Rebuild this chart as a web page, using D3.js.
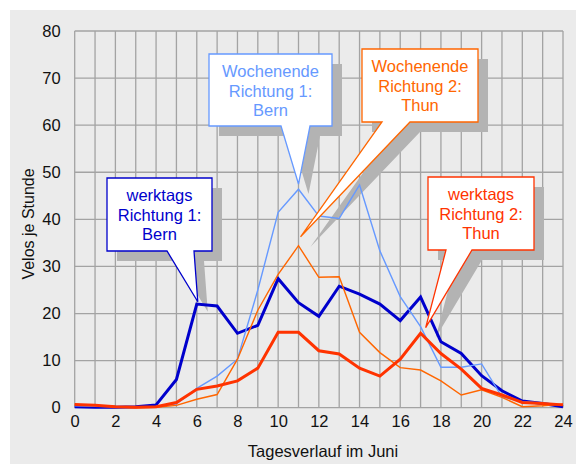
<!DOCTYPE html>
<html>
<head>
<meta charset="utf-8">
<script src="https://cdn.jsdelivr.net/npm/d3@7"></script>
<style>
  body { margin: 0; background: #fff; }
  svg { display: block; font-family: "Liberation Sans", Arial, sans-serif; }
</style>
</head>
<body>
<svg id="chart" width="576" height="464"></svg>
<script>
// Stunden 0..24
const hours = d3.range(0, 25);
const xTicks = d3.range(0, 25, 2);
const yTicks = d3.range(0, 81, 10);

// werktags
const werktagsBern = [0.2, 0.1, 0.1, 0.2, 0.6, 6.0, 22.0, 21.6, 15.8, 17.5, 27.4, 22.3, 19.4, 25.8, 24.1, 22.0, 18.5, 23.5, 14.0, 11.5, 6.8, 3.6, 1.4, 0.9, 0.2];
const werktagsThun = [0.7, 0.5, 0.2, 0.1, 0.2, 1.1, 3.9, 4.6, 5.7, 8.4, 16.0, 16.0, 12.1, 11.4, 8.4, 6.7, 10.3, 15.8, 11.5, 8.2, 4.1, 2.7, 1.1, 0.9, 0.6];
// Wochenende
const wochenendeBern = [0.4, 0.3, 0.2, 0.1, 0.1, 0.8, 4.1, 6.7, 10.3, 25.0, 41.5, 46.4, 40.7, 40.2, 47.3, 33.3, 23.6, 17.2, 8.6, 8.6, 9.3, 2.3, 1.3, 1.0, 0.6];
const wochenendeThun = [0.7, 0.5, 0.2, 0.0, 0.1, 0.5, 1.8, 2.8, 10.3, 20.7, 28.3, 34.4, 27.7, 27.8, 16.0, 11.7, 8.5, 8.0, 5.7, 2.7, 3.8, 2.2, 0.2, 0.4, 0.8];

const series = [
  { name: "werktags Richtung 1: Bern", values: werktagsBern, color: "#0000cc", width: 3 },
  { name: "Wochenende Richtung 1: Bern", values: wochenendeBern, color: "#6699ff", width: 1.4 },
  { name: "Wochenende Richtung 2: Thun", values: wochenendeThun, color: "#ff6600", width: 1.4 },
  { name: "werktags Richtung 2: Thun", values: werktagsThun, color: "#ff3300", width: 3 }
];

// Sprechblasen: Text, Box, Fuss der Spitze, Spitze in Datenkoordinaten
const callouts = [
  { lines: ["werktags", "Richtung 1:", "Bern"], color: "#0000cc",
    box: [107, 178, 105, 73], tail: [167, 194], tip: [6.05, 22.5] },
  { lines: ["Wochenende", "Richtung 1:", "Bern"], color: "#6699ff",
    box: [209, 54, 123, 72], tail: [281, 310], tip: [11, 47.5] },
  { lines: ["Wochenende", "Richtung 2:", "Thun"], color: "#ff6600",
    box: [362, 49, 116, 73], tail: [382, 410], tip: [11.1, 36.3] },
  { lines: ["werktags", "Richtung 2:", "Thun"], color: "#ff3300",
    box: [428, 177, 106, 73], tail: [446, 472], tip: [17.25, 17] }
];

const svg = d3.select("#chart");

// Hintergrund
svg.append("rect")
  .attr("x", 10).attr("y", 10)
  .attr("width", 566).attr("height", 454)
  .attr("fill", "#ebebeb");

const x = d3.scaleLinear().domain([0, 24]).range([74.7, 563]);
const y = d3.scaleLinear().domain([0, 80]).range([407.7, 31]);

// Gitter
const grid = svg.append("g").attr("stroke", "#a3a3a3").attr("stroke-width", 1.3);
grid.selectAll("line.v").data(hours).enter().append("line")
  .attr("x1", d => x(d)).attr("x2", d => x(d))
  .attr("y1", y(0)).attr("y2", y(80));
grid.selectAll("line.h").data(yTicks).enter().append("line")
  .attr("x1", x(0)).attr("x2", x(24))
  .attr("y1", d => y(d)).attr("y2", d => y(d));

// Achsen
const xAxis = svg.append("g")
  .attr("transform", `translate(0,${y(0)})`)
  .call(d3.axisBottom(x).tickValues(xTicks).tickSize(0).tickPadding(8));
const yAxis = svg.append("g")
  .attr("transform", `translate(${x(0)},0)`)
  .call(d3.axisLeft(y).tickValues(yTicks).tickSize(0).tickPadding(14));
[xAxis, yAxis].forEach(a => {
  a.select(".domain").remove();
  a.selectAll("text").attr("font-size", 16.5).attr("fill", "#111")
    .attr("font-family", "'Liberation Sans', Arial, sans-serif");
});

svg.append("text")
  .attr("x", 323).attr("y", 457)
  .attr("text-anchor", "middle")
  .attr("font-size", 16.5).attr("fill", "#111")
  .text("Tagesverlauf im Juni");

svg.append("text")
  .attr("transform", "translate(34,224) rotate(-90)")
  .attr("text-anchor", "middle")
  .attr("font-size", 16).attr("fill", "#111")
  .text("Velos je Stunde");

function calloutPath(c, dx, dy) {
  const [bx, by, bw, bh] = c.box;
  const tx = x(c.tip[0]), ty = y(c.tip[1]);
  const p = d3.path();
  p.moveTo(bx + dx, by + dy);
  p.lineTo(bx + bw + dx, by + dy);
  p.lineTo(bx + bw + dx, by + bh + dy);
  p.lineTo(c.tail[1] + dx, by + bh + dy);
  p.lineTo(tx + dx, ty + dy);
  p.lineTo(c.tail[0] + dx, by + bh + dy);
  p.lineTo(bx + dx, by + bh + dy);
  p.closePath();
  return p.toString();
}

// Schatten der Sprechblasen
svg.append("g").selectAll("path").data(callouts).enter().append("path")
  .attr("d", c => calloutPath(c, 10, 10))
  .attr("fill", "#b3b3b3");

// Linien
const line = d3.line().x((d, i) => x(hours[i])).y(d => y(d));
svg.append("g").selectAll("path").data(series).enter().append("path")
  .attr("d", s => line(s.values))
  .attr("fill", "none")
  .attr("stroke", s => s.color)
  .attr("stroke-width", s => s.width)
  .attr("stroke-linejoin", "miter");

// Sprechblasen
const cg = svg.append("g").selectAll("g").data(callouts).enter().append("g");
cg.append("path")
  .attr("d", c => calloutPath(c, 0, 0))
  .attr("fill", "#fff")
  .attr("stroke", c => c.color)
  .attr("stroke-width", 1.3);
cg.each(function (c) {
  const g = d3.select(this);
  const cx = c.box[0] + c.box[2] / 2;
  c.lines.forEach((t, i) => {
    g.append("text")
      .attr("x", cx)
      .attr("y", c.box[1] + 23 + i * 19.5)
      .attr("text-anchor", "middle")
      .attr("font-size", 16.5)
      .attr("fill", c.color)
      .text(t);
  });
});
</script>
</body>
</html>
